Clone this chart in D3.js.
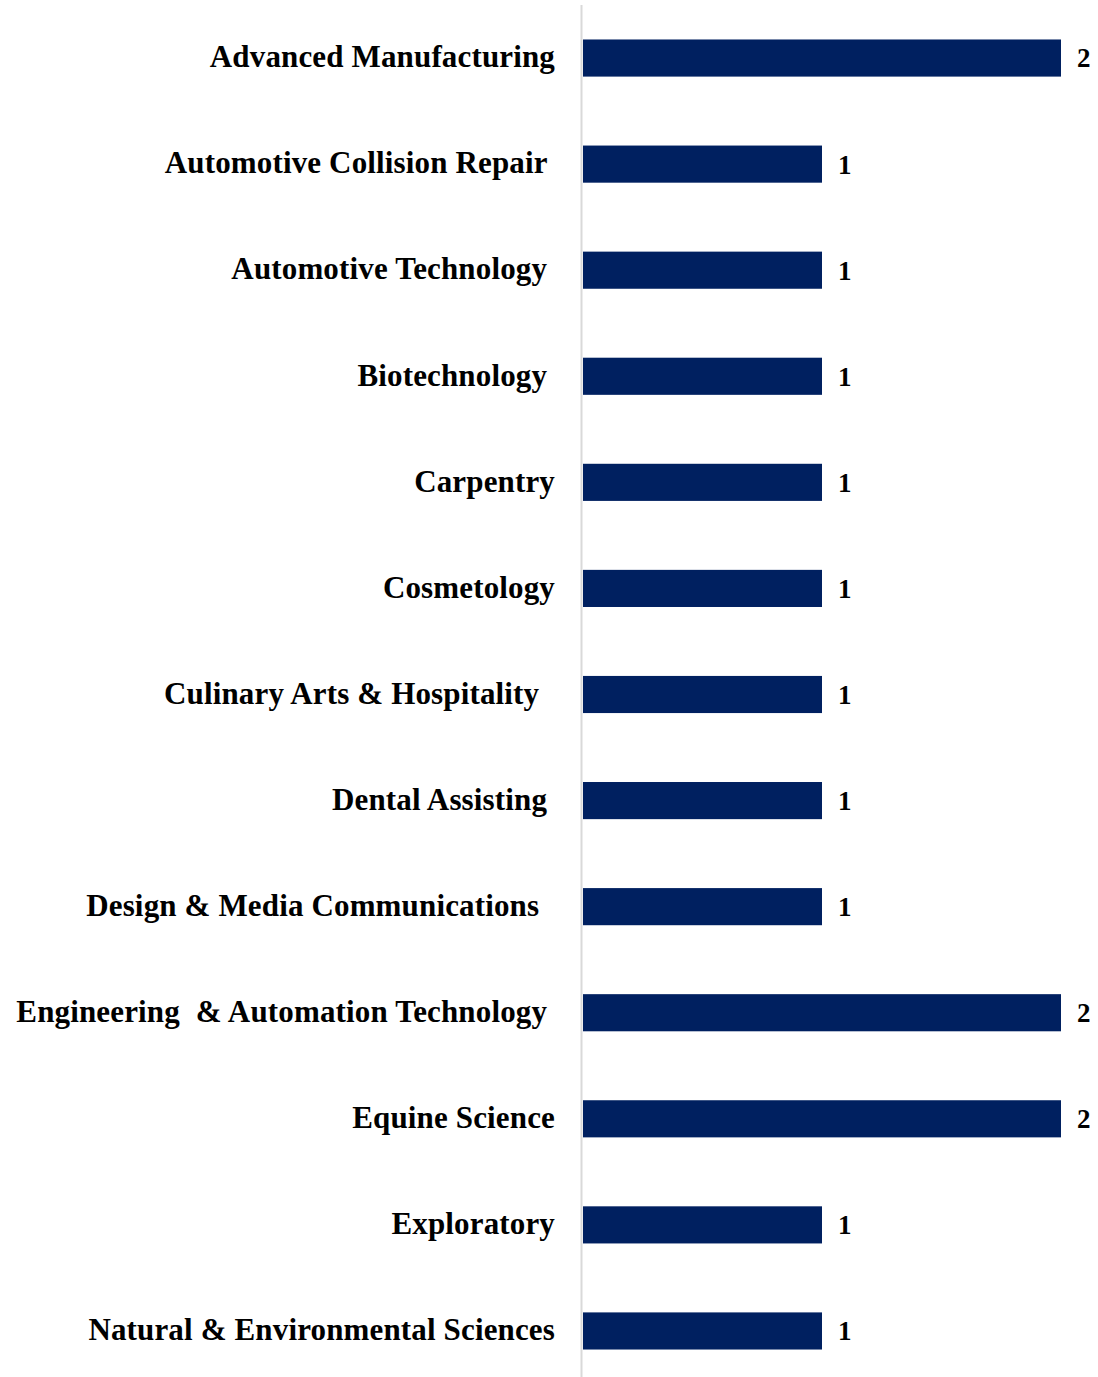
<!DOCTYPE html>
<html><head><meta charset="utf-8">
<script src="https://cdn.jsdelivr.net/npm/d3@7"></script>
<style>body{margin:0;background:#fff}</style>
</head><body>
<svg id="c" width="1098" height="1377"></svg>
<script>
const categories = [
  "Advanced Manufacturing",
  "Automotive Collision Repair ",
  "Automotive Technology ",
  "Biotechnology ",
  "Carpentry",
  "Cosmetology",
  "Culinary Arts & Hospitality  ",
  "Dental Assisting ",
  "Design & Media Communications  ",
  "Engineering  & Automation Technology ",
  "Equine Science",
  "Exploratory",
  "Natural & Environmental Sciences"
];
const values = [2,1,1,1,1,1,1,1,1,2,2,1,1];

const svg = d3.select("#c");
const x = d3.scaleLinear().domain([0,2]).range([583,1061]);
const y = d3.scaleBand().domain(categories).range([5,1384]).paddingInner(0.65).paddingOuter(0.325);
const font = "'Liberation Serif', serif";

svg.append("line").attr("x1",581.5).attr("x2",581.5).attr("y1",5).attr("y2",1377)
  .attr("stroke","#d9d9d9").attr("stroke-width",2);

svg.selectAll("rect.bar").data(values).join("rect").attr("class","bar")
  .attr("x",x(0)).attr("y",(d,i)=>y(categories[i]))
  .attr("width",d=>x(d)-x(0)).attr("height",y.bandwidth())
  .attr("fill","#002060");

svg.selectAll("text.lab").data(categories).join("text").attr("class","lab")
  .attr("x",555).attr("y",d=>y(d)+y.bandwidth()/2)
  .attr("dy","0.3em").attr("text-anchor","end")
  .style("white-space","pre")
  .attr("letter-spacing","0.15px")
  .attr("font-family",font).attr("font-weight","bold").attr("font-size",31)
  .attr("fill","#000").text(d=>d);

svg.selectAll("text.val").data(values).join("text").attr("class","val")
  .attr("x",d=>x(d)+16).attr("y",(d,i)=>y(categories[i])+y.bandwidth()/2)
  .attr("dy","0.35em")
  .attr("font-family",font).attr("font-weight","bold").attr("font-size",27)
  .attr("fill","#000").text(d=>d);
</script>
</body></html>
